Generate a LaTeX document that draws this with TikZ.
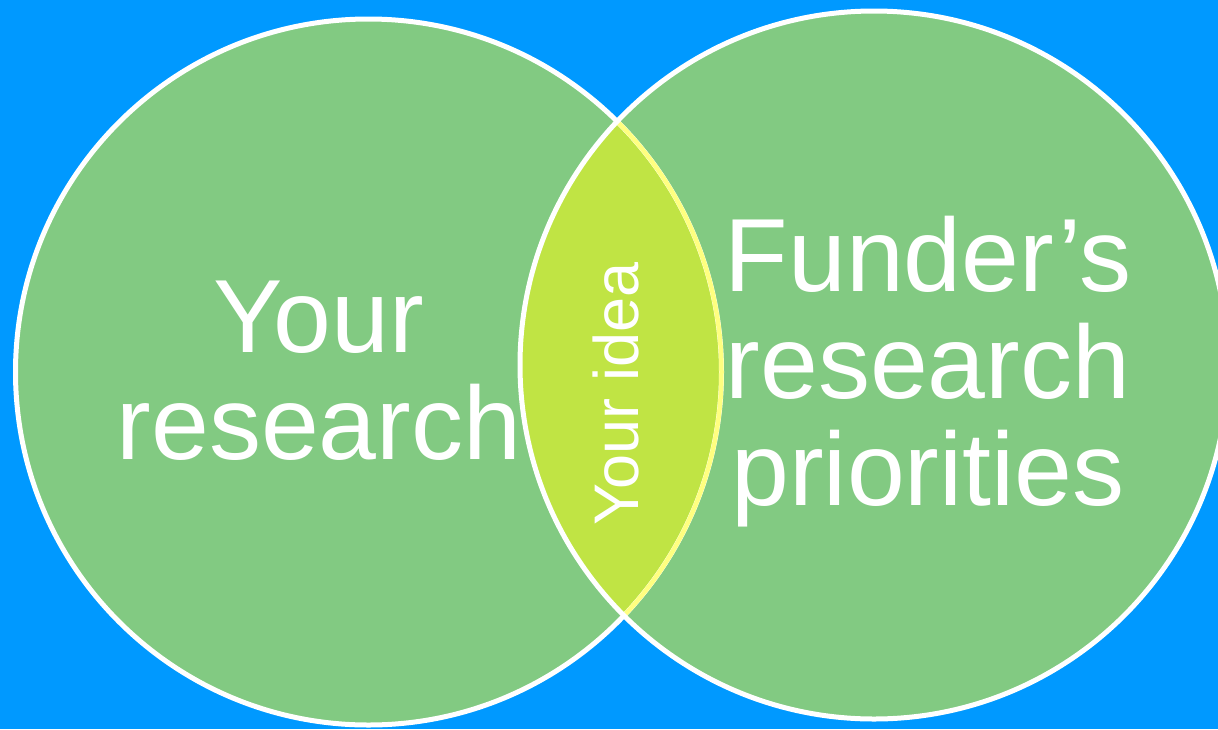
\documentclass[tikz,border=0pt]{standalone}
\usepackage{fontspec}
\setmainfont{Liberation Sans}
\usepackage{tikz}

\definecolor{bgblue}{RGB}{0,153,255}
\definecolor{circlegreen}{RGB}{130,202,130}
\definecolor{lensgreen}{RGB}{192,228,68}
\definecolor{lensedge}{RGB}{255,255,128}

\begin{document}
\begin{tikzpicture}[x=1pt, y=-1pt]
        \tikzstyle{disc} = [circle, inner sep=0pt, fill=circlegreen]
        \tikzstyle{ring} = [draw=white, line width=5pt]
        \tikzstyle{rim} = [draw=lensedge, line width=4.5pt]
        \tikzstyle{biglabel} = [text=white, font=\fontsize{104}{107}\selectfont, align=center, inner sep=0pt]
        \tikzstyle{smalllabel} = [text=white, font=\fontsize{63}{70}\selectfont, inner sep=0pt]

        \fill[bgblue] (0,0) rectangle (1218,729);
        \useasboundingbox (0,0) rectangle (1218,729);

        \node (mine) [disc, minimum size=706pt] at (368.5,372) {};
        \node (funder) [disc, minimum size=708pt] at (874,365) {};

        % overlap of the two circles
        \begin{scope}
            \clip (mine.center) circle (353pt);
            \fill[lensgreen] (funder.center) circle (354pt);
        \end{scope}
        \draw[ring] (mine.center) circle (353pt);
        \begin{scope}
            \clip (funder.center) circle (354pt);
            \draw[rim] (mine.center) circle (353pt);
        \end{scope}
        \draw[ring] (funder.center) circle (354pt);

        % base anchor sits on the last line
        \node (minetext) [biglabel, anchor=base] at (319,459) {Your\\research};
        \node (fundertext) [biglabel, anchor=base] at (928,505) {Funder’s\\research\\priorities};
        \node (idea) [smalllabel, anchor=base, rotate=90] at (638,394) {Your idea};
    \end{tikzpicture}
\end{document}
